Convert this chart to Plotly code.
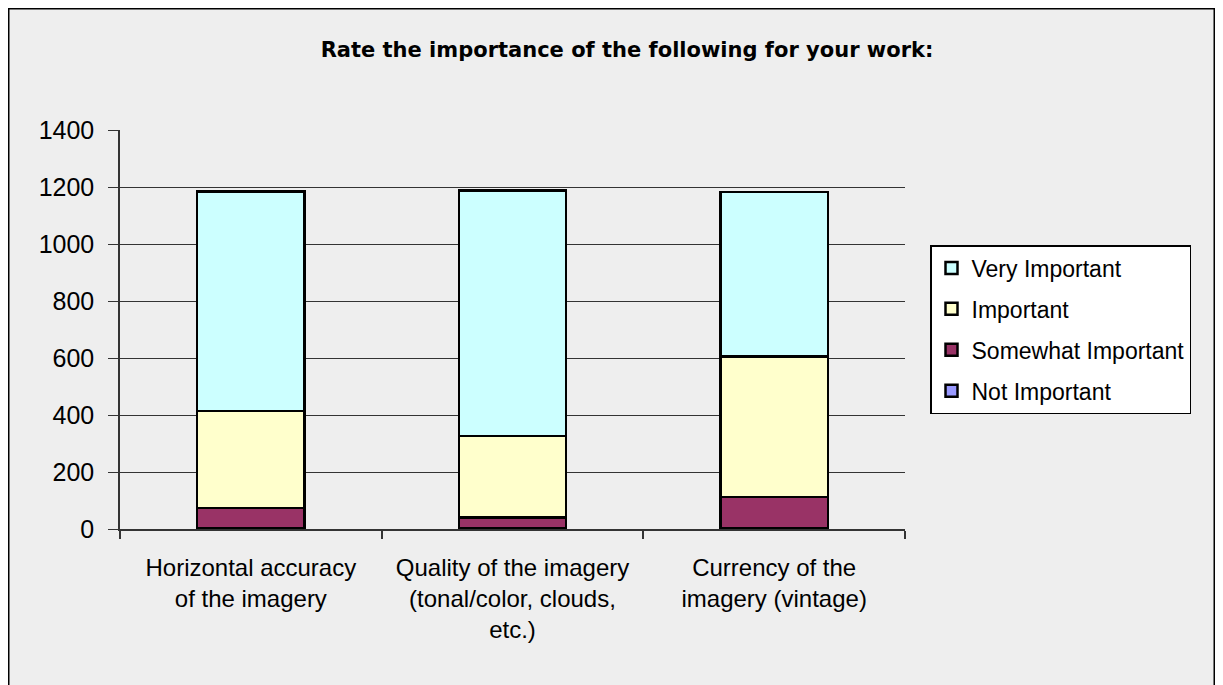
import plotly.graph_objects as go

categories = ["Horizontal accuracy<br>of the imagery",
              "Quality of the imagery<br>(tonal/color, clouds,<br>etc.)",
              "Currency of the<br>imagery (vintage)"]
not_important = [3, 2, 4]
somewhat_important = [70, 38, 108]
important = [341, 286, 495]
very_important = [772, 864, 578]
y_ticks = [0, 200, 400, 600, 800, 1000, 1200, 1400]

series = [
    ("Not Important", not_important, "#9999ff", 4),
    ("Somewhat Important", somewhat_important, "#993366", 3),
    ("Important", important, "#ffffcc", 2),
    ("Very Important", very_important, "#ccffff", 1),
]

fig = go.Figure()
for name, vals, col, rank in series:
    fig.add_trace(go.Bar(x=categories, y=vals, name=name, width=0.41, legendgroup=name,
                         legendrank=rank,
                         marker=dict(color=col, line=dict(color="black", width=2.5))))

# figure is rendered with an 8px page margin; work in page coords minus 8
OFF = 8
W, H = 1207, 677
L, R, T, B = 120 - OFF, 905 - OFF, 130 - OFF, 529 - OFF
pw, ph = R - L, B - T

def px_x(x):
    return (x - OFF - L) / pw

def px_y(y):
    return (B - (y - OFF)) / ph

FONT = "Liberation Sans, Arial, sans-serif"

fig.update_layout(
    width=W, height=H,
    barmode="stack",
    paper_bgcolor="#eeeeee",
    plot_bgcolor="#eeeeee",
    margin=dict(l=L, r=W - R, t=T, b=H - B, pad=0),
    font=dict(family=FONT, color="black", size=24),
    title=dict(text="<b>Rate the importance of the following for your work:</b>",
               x=(627 - OFF) / W, xref="container", xanchor="center",
               y=1 - (50 - OFF) / H, yref="container", yanchor="middle",
               font=dict(size=21, family="DejaVu Sans, sans-serif")),
    legend=dict(traceorder="grouped", x=px_x(930), y=px_y(245),
                xanchor="left", yanchor="top",
                bgcolor="white", bordercolor="black", borderwidth=1.5,
                font=dict(size=23, family=FONT), tracegroupgap=8,
                itemwidth=30),
    xaxis=dict(showgrid=False, showline=True, linecolor="#333333", linewidth=1.5,
               ticks="outside", tickson="boundaries", ticklen=8, tickcolor="#333333",
               tickwidth=1.5, tickfont=dict(size=24), ticklabelstandoff=16),
    yaxis=dict(range=[0, 1402], tickvals=y_ticks, showgrid=True, gridcolor="#333333",
               gridwidth=1.3, showline=True, linecolor="#333333", linewidth=1.5,
               ticks="outside", ticklen=10, tickcolor="#333333", tickwidth=1.3,
               tickfont=dict(size=25), ticklabelstandoff=9, zeroline=False),
    showlegend=True,
    shapes=[dict(type="rect", xref="paper", yref="paper",
                 x0=(0.75 - L) / pw, x1=(W - 0.75 - L) / pw,
                 y0=(B - H - 20) / ph, y1=(B - 0.75) / ph,
                 line=dict(color="black", width=1.5), fillcolor="rgba(0,0,0,0)", layer="below")],
)

fig.write_html("out.html")
